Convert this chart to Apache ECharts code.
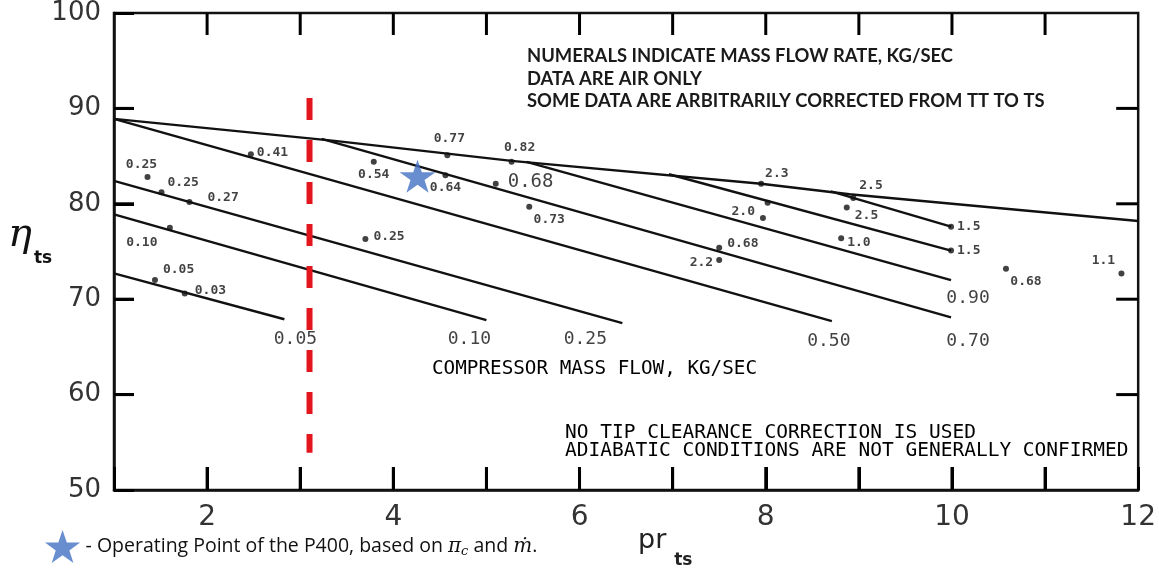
<!DOCTYPE html>
<html>
<head>
<meta charset="utf-8">
<script src="https://cdn.jsdelivr.net/npm/echarts@6/dist/echarts.min.js"></script>
<style>
  html, body { margin: 0; padding: 0; background: #fff; }
  #chart { width: 1159px; height: 571px; }
</style>
</head>
<body>
<div id="chart"></div>
<script>
// axis ticks
var xTicks = [1, 2, 3, 4, 5, 6, 7, 8, 9, 10, 11, 12];
var yTicks = [50, 60, 70, 80, 90, 100];

// efficiency lines, [pr_ts, eta_ts]
var envelope = [[1, 88.9], [3.37, 86.6], [5.27, 84.5], [7.95, 82.1], [8.9, 81.0], [12, 78.2]];
var flow005 = [[1, 72.7], [2.83, 67.9]];
var flow010 = [[1, 78.9], [5.0, 67.8]];
var flow025 = [[1, 82.4], [6.46, 67.5]];
var flow050 = [[1, 88.9], [8.71, 67.7]];
var flow070 = [[3.23, 86.8], [9.99, 68.1]];
var flow090 = [[5.43, 84.4], [9.99, 72.0]];
var flow15a = [[8.70, 81.3], [9.99, 77.6]];
var flow15b = [[6.96, 83.1], [9.99, 75.1]];
var curves = [flow005, flow010, flow025, flow050, flow070, flow090, flow15a, flow15b];
var curveNames = ['0.05', '0.10', '0.25', '0.50', '0.70', '0.90', '', ''];

// measured points: pr_ts, eta_ts, mass flow kg/s
var dotX = [2.47, 1.36, 1.51, 1.81, 1.60, 1.44, 1.76, 3.79, 3.70, 4.58, 5.27, 4.56, 5.10, 5.46,
  8.02, 7.97, 7.95, 8.94, 8.87, 8.81, 9.99, 9.99, 7.50, 7.50, 10.58, 11.82];
var dotY = [85.2, 82.8, 81.2, 80.2, 77.5, 72.0, 70.6, 84.4, 76.3, 85.1, 84.4, 83.0, 82.1, 79.7,
  80.1, 78.5, 82.1, 80.6, 79.6, 76.4, 77.6, 75.1, 75.4, 74.1, 73.2, 72.7];
var dotFlow = ['0.41', '0.25', '0.25', '0.27', '0.10', '0.05', '0.03', '0.54', '0.25', '0.77', '0.82', '0.64', '0.68', '0.73',
  '', '2.0', '2.3', '2.5', '2.5', '1.0', '1.5', '1.5', '0.68', '2.2', '0.68', '1.1'];

// P400 operating point and the dashed red limit
var p400 = [[4.26, 82.9]];
var limitLine = [[3.1, 91.1], [3.1, 53.9]];

// label placement for the dots: [position, dx, dy, fontSize]
var dotLabelStyle = [
  ['right', 0, -2, 13], ['top', -6, 0, 13], ['right', 0, -10, 13], ['right', 12, -4, 13],
  ['bottom', -28, 2, 13], ['right', 2, -10, 13], ['right', 4, -3, 13], ['bottom', 0, 0, 13],
  ['right', 2, -2, 13], ['top', 2, -4, 13], ['top', 8, -2, 13], ['bottom', 0, 0, 13],
  ['right', 6, -2, 19], ['bottom', 20, 0, 13], ['right', 0, 0, 13], ['left', -2, -6, 13],
  ['right', -2, -10, 13], ['right', 0, -12, 13], ['right', 2, 8, 13], ['right', 0, 4, 13],
  ['right', 0, 0, 13], ['right', 0, 0, 13], ['right', 2, -4, 13], ['left', 0, 3, 13],
  ['bottom', 20, 0, 13], ['top', -18, 0, 13]
];
// offsets of the flow labels under the line ends
var curveLabelOffset = [[11, 20], [-17, 19], [-37, 16], [-3, 20], [17, 24], [17, 18], [0, 0], [0, 0]];

var starPath = 'path://M50,0 L61.8,35.1 L98.9,35.1 L69,56.9 L80.3,91.9 L50,70.2 L19.7,91.9 L31,56.9 L1.1,35.1 L38.2,35.1 Z';
var mono = 'DejaVu Sans Mono';

var xMin = xTicks[0], xMax = xTicks[xTicks.length - 1];
var yMin = yTicks[0], yMax = yTicks[yTicks.length - 1];

var chart = echarts.init(document.getElementById('chart'));

var series = [];
var lineStyle = { color: '#111', width: 2.4 };

series.push({ type: 'line', data: envelope, symbol: 'none', lineStyle: lineStyle });
curves.forEach(function (c) {
  series.push({ type: 'line', data: c, symbol: 'none', lineStyle: lineStyle });
});

// flow labels at the ends of the lines
var endData = [];
curves.forEach(function (c, i) {
  if (!curveNames[i]) return;
  endData.push({
    value: c[c.length - 1],
    name: curveNames[i],
    label: { offset: curveLabelOffset[i] }
  });
});
series.push({
  type: 'scatter', data: endData, symbolSize: 1,
  itemStyle: { color: 'rgba(0,0,0,0)' },
  label: {
    show: true, position: 'inside', formatter: '{b}',
    fontFamily: mono, fontSize: 18, color: '#111'
  }
});

// dots
var dots = dotX.map(function (x, i) {
  var s = dotLabelStyle[i];
  return {
    value: [x, dotY[i]],
    name: dotFlow[i],
    label: {
      position: s[0], offset: [s[1], s[2]], fontSize: s[3],
      fontWeight: s[3] > 14 ? 'normal' : 'bold'
    }
  };
});
series.push({
  type: 'scatter', data: dots, symbolSize: 6,
  itemStyle: { color: '#111' },
  label: { show: true, formatter: '{b}', fontFamily: mono, color: '#111', distance: 3 }
});

// red dashed marker
series.push({
  type: 'line', data: limitLine, symbol: 'none', z: 5,
  lineStyle: { color: '#e3161d', width: 6, type: [22, 20] }
});

// operating point
series.push({
  name: 'P400', type: 'scatter', data: p400, symbol: starPath, symbolSize: [36, 33],
  itemStyle: { color: '#4472c4' }, z: 6
});

// inward tick marks on all four sides of the frame
var frameTicks = [];
xTicks.slice(1, -1).forEach(function (v) { frameTicks.push([v, yMin], [v, yMax]); });
yTicks.slice(1, -1).forEach(function (v) { frameTicks.push([xMin, v], [xMax, v]); });
series.push({
  type: 'custom', clip: false, z: 4,
  data: frameTicks,
  renderItem: function (params, api) {
    var x = api.value(0), y = api.value(1);
    var c = api.coord([x, y]);
    var shape;
    if (y === yMin) shape = { x1: c[0], y1: c[1], x2: c[0], y2: c[1] - 23 };
    else if (y === yMax) shape = { x1: c[0], y1: c[1], x2: c[0], y2: c[1] + 22 };
    else if (x === xMin) shape = { x1: c[0], y1: c[1], x2: c[0] + 20, y2: c[1] };
    else shape = { x1: c[0], y1: c[1], x2: c[0] - 22, y2: c[1] };
    return { type: 'line', shape: shape, style: { stroke: '#000', lineWidth: 3 } };
  }
});

var option = {
  animation: false,
  grid: { left: 114, right: 12, top: 12, bottom: 81, show: true, borderColor: '#111', borderWidth: 2.5 },
  legend: {
    data: [{ name: 'P400', icon: starPath }],
    left: 40, top: 525, itemWidth: 36, itemHeight: 33, itemGap: 0,
    selectedMode: false,
    formatter: function () {
      return '{t|- Operating Point of the P400, based on }{m|\u03c0}{s|c}{t| and }{m|\u1e41}{t|.}';
    },
    textStyle: {
      color: '#111',
      rich: {
        t: { fontFamily: 'Open Sans', fontSize: 19.5, color: '#111' },
        m: { fontFamily: 'DejaVu Serif', fontStyle: 'italic', fontSize: 20, color: '#111' },
        s: { fontFamily: 'DejaVu Serif', fontStyle: 'italic', fontSize: 13, color: '#111', padding: [10, 0, 0, 0] }
      }
    }
  },
  xAxis: {
    type: 'value', min: xMin, max: xMax, interval: 1,
    axisLine: { show: true, lineStyle: { color: '#111', width: 2.5 } },
    axisTick: { show: true, inside: true, length: 23, lineStyle: { color: '#000', width: 3 } },
    splitLine: { show: false },
    axisLabel: {
      margin: 14, fontFamily: 'DejaVu Sans', fontSize: 28, color: '#333',
      formatter: function (v) { return v % 2 === 0 ? String(v) : ''; }
    }
  },
  yAxis: {
    type: 'value', min: yMin, max: yMax, interval: 10,
    axisLine: { show: true, lineStyle: { color: '#111', width: 2.5 } },
    axisTick: { show: true, inside: true, length: 20, lineStyle: { color: '#000', width: 3 } },
    splitLine: { show: false },
    axisLabel: { margin: 13, fontFamily: 'DejaVu Sans', fontSize: 26, color: '#333' }
  },
  graphic: [
    {
      type: 'text', left: 527, top: 45,
      style: {
        text: 'NUMERALS INDICATE MASS FLOW RATE, KG/SEC\nDATA ARE AIR ONLY\nSOME DATA ARE ARBITRARILY CORRECTED FROM TT TO TS',
        font: 'bold 18.4px Lato', fill: '#1a1a1a', lineHeight: 22.5
      }
    },
    {
      type: 'text', left: 432, top: 359,
      style: { text: 'COMPRESSOR MASS FLOW, KG/SEC', font: '19.3px "DejaVu Sans Mono"', fill: '#000' }
    },
    {
      type: 'text', left: 565, top: 423,
      style: {
        text: 'NO TIP CLEARANCE CORRECTION IS USED\nADIABATIC CONDITIONS ARE NOT GENERALLY CONFIRMED',
        font: '19.5px "DejaVu Sans Mono"', fill: '#000', lineHeight: 18
      }
    },
    {
      type: 'text', left: 8, top: 216,
      style: {
        text: '{e|\u03b7}{s|ts}',
        rich: {
          e: { fontFamily: 'DejaVu Serif', fontStyle: 'italic', fontSize: 40, fill: '#111', height: 62 },
          s: { fontFamily: 'DejaVu Sans', fontWeight: 'bold', fontSize: 17, fill: '#111', verticalAlign: 'bottom', padding: [0, 0, 0, 2] }
        }
      }
    },
    {
      type: 'text', left: 638, top: 527,
      style: {
        text: '{p|pr}{s|ts}',
        rich: {
          p: { fontFamily: 'DejaVu Sans', fontSize: 27, fill: '#222', height: 58 },
          s: { fontFamily: 'DejaVu Sans', fontWeight: 'bold', fontSize: 17, fill: '#222', verticalAlign: 'bottom', padding: [0, 0, 0, 8] }
        }
      }
    }
  ],
  series: series
};

chart.setOption(option);
</script>
</body>
</html>
